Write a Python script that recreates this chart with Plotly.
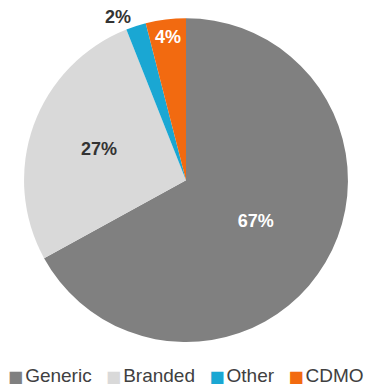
import plotly.graph_objects as go

labels = ["Generic", "Branded", "Other", "CDMO"]
values = [67, 27, 2, 4]
colors = ["#808080", "#d9d9d9", "#1aa7d3", "#f26a10"]
text_colors = ["#ffffff", "#333333", "#333333", "#ffffff"]
positions = ["inside", "inside", "outside", "inside"]

FONT = "Liberation Sans, Arial, sans-serif"

fig = go.Figure(go.Pie(
    labels=labels,
    values=values,
    sort=False,
    direction="clockwise",
    rotation=0,
    marker=dict(colors=colors, line=dict(width=0)),
    texttemplate="%{percent:.0%}",
    textposition=positions,
    insidetextorientation="horizontal",
    textfont=dict(family=FONT, size=18, color=text_colors, weight="bold"),
    outsidetextfont=dict(family=FONT, size=18, color="#333333", weight="bold"),
    domain=dict(x=[0.0, 1.0], y=[0.116, 0.953]),
    hoverinfo="label+percent",
    showlegend=False,
))

# Legend line built from the series names and colours
sep = "&nbsp;" * 2 + "&#8201;"
legend_text = sep.join(
    f"<span style='color:{c};font-family:DejaVu Sans;font-size:16px'>■</span>"
    f"<span style='font-size:10px'>&#8201;</span>{l}"
    for l, c in zip(labels, colors)
)
fig.add_annotation(
    text=legend_text,
    xref="paper", yref="paper",
    x=0.5, y=0.03, xanchor="center", yanchor="middle",
    showarrow=False,
    font=dict(family=FONT, size=19, color="#404040"),
)

fig.update_layout(
    width=372,
    height=387,
    margin=dict(l=0, r=0, t=0, b=0),
    paper_bgcolor="white",
    plot_bgcolor="white",
)

fig.write_html("out.html")
